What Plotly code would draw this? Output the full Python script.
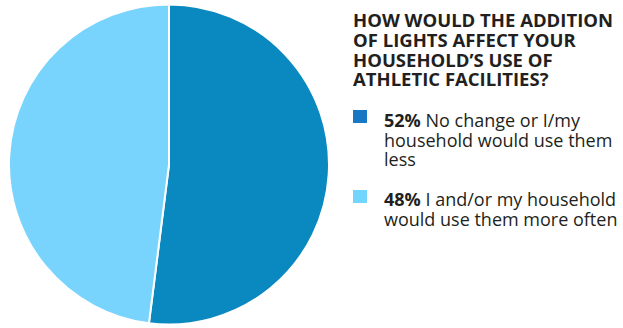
import plotly.graph_objects as go

labels = ["No change or I/my household would use them less",
          "I and/or my household would use them more often"]
values = [52, 48]
slice_colors = ["#0a88c0", "#78d4fd"]
legend_colors = ["#1878c4", "#72d5fd"]

title_lines = ["HOW WOULD THE ADDITION", "OF LIGHTS AFFECT YOUR",
               "HOUSEHOLD\u2019S USE OF", "ATHLETIC FACILITIES?"]
item_lines = [
    ["No change or I/my", "household would use them", "less"],
    ["I and/or my household", "would use them more often"],
]

W, H = 623, 328
FONT = "Open Sans"
TXT = "#231f20"

def py(px):
    return 1 - px / H

def pxx(px):
    return px / W

fig = go.Figure(go.Pie(
    labels=labels, values=values, sort=False, direction="clockwise",
    rotation=0, textinfo="none", hoverinfo="label+percent",
    marker=dict(colors=slice_colors, line=dict(color="white", width=2)),
    domain=dict(x=[pxx(9), pxx(329)], y=[py(327), py(2)]),
    showlegend=False,
))

def block(lines, size):
    return "<br>".join(f'<span style="font-size:{size}px">{l}</span>' for l in lines)

ann = []
ann.append(dict(x=pxx(351), y=py(5), xref="paper", yref="paper",
                xanchor="left", yanchor="top", showarrow=False, align="left",
                text=block(["<b>" + l + "</b>" for l in title_lines], 18.5),
                font=dict(family=FONT, size=15.2, color=TXT)))

item_tops = [106, 185]
square_tops = [110, 190]
for i, lines in enumerate(item_lines):
    lines = [f"<b>{values[i]}%</b> " + lines[0]] + lines[1:]
    ann.append(dict(x=pxx(382), y=py(item_tops[i]), xref="paper", yref="paper",
                    xanchor="left", yanchor="top", showarrow=False, align="left",
                    text=block(lines, 18),
                    font=dict(family=FONT, size=15.0, color=TXT)))

shapes = []
for i, t in enumerate(square_tops):
    shapes.append(dict(type="rect", xref="paper", yref="paper",
                       x0=pxx(353), x1=pxx(367), y0=py(t + 13), y1=py(t),
                       fillcolor=legend_colors[i], line=dict(width=0)))

fig.update_layout(width=W, height=H, margin=dict(l=0, r=0, t=0, b=0),
                  paper_bgcolor="white", plot_bgcolor="white",
                  annotations=ann, shapes=shapes)
fig.write_html("out.html", config={"displayModeBar": False},
               post_script="document.body.style.margin='0px';")
